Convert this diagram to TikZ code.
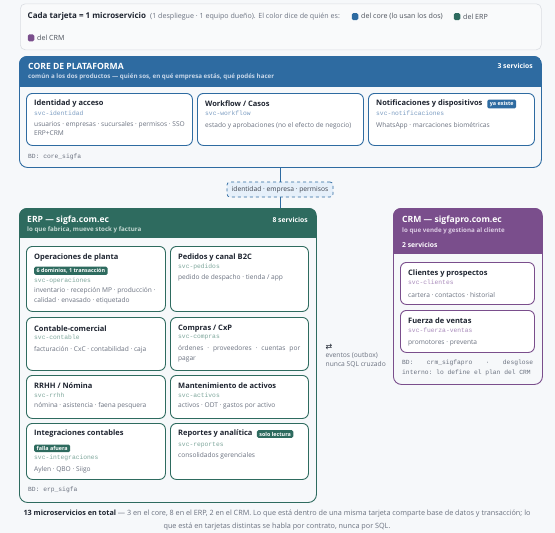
\documentclass[tikz,border=0pt]{standalone}
\usepackage{fontspec}
\setmainfont{Open Sans}
\setmonofont{Liberation Mono}
\newfontfamily\symfnt{DejaVu Sans}
\definecolor{bg}{HTML}{F6F8FA}
\definecolor{lgfill}{HTML}{F9FAFB}
\definecolor{lgline}{HTML}{DADDE2}
\definecolor{coreC}{HTML}{2E6BA1}
\definecolor{erpC}{HTML}{2E6B5F}
\definecolor{crmC}{HTML}{7A4E8C}
\definecolor{coreM}{HTML}{7C9DC2}
\definecolor{erpM}{HTML}{7FA79C}
\definecolor{crmM}{HTML}{A98BBB}
\definecolor{coreS}{HTML}{C9D8EA}
\definecolor{erpS}{HTML}{C5D9D3}
\definecolor{crmS}{HTML}{DDCCE5}
\definecolor{ink}{HTML}{1E2430}
\definecolor{mut}{HTML}{6B7280}
\definecolor{lblfill}{HTML}{E6F0FA}
\begin{document}
\begin{tikzpicture}[x=1pt,y=-1pt,
  panel/.style={draw=#1, line width=0.9pt, rounded corners=8pt, anchor=north west, inner sep=0pt, fill=bg},
  card/.style={draw=#1, line width=0.9pt, rounded corners=6pt, fill=white, anchor=north west, inner sep=0pt},
  tx/.style={anchor=west, inner sep=0pt, text=mut, font=\fontsize{6.6}{9.6}\selectfont},
  ttl/.style={anchor=west, inner sep=0pt, text=ink, font=\bfseries\fontsize{7.5}{9}\selectfont},
  mono/.style={anchor=west, inner sep=0pt, text=#1, font=\ttfamily\fontsize{6.3}{10.3}\selectfont},
  badge/.style={anchor=west, fill=#1, text=white, rounded corners=1.5pt, inner xsep=2.5pt, inner ysep=1.7pt, font=\bfseries\fontsize{5.4}{6}\selectfont},
  htitle/.style={anchor=west, inner sep=0pt, text=white, font=\bfseries\fontsize{8.6}{10}\selectfont},
  hsub/.style={anchor=west, inner sep=0pt, text=#1, font=\bfseries\fontsize{6.2}{7}\selectfont},
  hcount/.style={inner sep=0pt, text=white, font=\bfseries\fontsize{6.8}{7}\selectfont},
  lgt/.style={anchor=west, inner sep=0pt, text=#1, font=\fontsize{7.1}{8}\selectfont},
  sq/.style={fill=#1, rounded corners=1.5pt, minimum width=6.5pt, minimum height=7pt, inner sep=0pt},
  link/.style={draw=coreC, line width=0.9pt}
]
\useasboundingbox (0,0) rectangle (555,533);
\fill[bg] (0,0) rectangle (555,533);

% ---------- legend ----------
\node[draw=lgline, fill=lgfill, line width=0.6pt, rounded corners=5pt, anchor=north west, minimum width=521pt, minimum height=46pt, inner sep=0pt] (legend) at (20,3.5) {};
\node[anchor=west, inner sep=0pt, text=ink, font=\bfseries\fontsize{8}{9}\selectfont] (lg1) at (27.5,16.6) {Cada tarjeta = 1 microservicio};
\node[lgt=mut] (lg2) at (150,16.6) {(1 despliegue · 1 equipo dueño). El color dice de quién es:};
\node[sq=coreC] (lgsqa) at (355,16.6) {};
\node[lgt=ink!80] (lg3) at (361,16.6) {del core (lo usan los dos)};
\node[sq=erpC] (lgsqb) at (457,16.6) {};
\node[lgt=ink!80] (lg4) at (463,16.6) {del ERP};
\node[sq=crmC] (lgsqc) at (31,37.9) {};
\node[lgt=ink!80] (lg5) at (37,37.9) {del CRM};

% ---------- core ----------
\node[panel=coreC, minimum width=522pt, minimum height=111pt] (core) at (19,56) {};
\begin{scope}
\clip[rounded corners=8pt] (core.north west) rectangle (core.south east);
\fill[coreC] (19,56) rectangle (541,87);
\end{scope}
\node[htitle] (coret) at (28,66) {CORE DE PLATAFORMA};
\node[hsub=coreS] (cores) at (28,76.7) {común a los dos productos — quién sos, en qué empresa estás, qué podés hacer};
\node[hcount, anchor=east] (corec) at (533,66) {3 servicios};

\node[card=coreC, minimum width=166pt, minimum height=52pt] (c1) at (26,93) {};
\node[ttl] at (34,104) {Identidad y acceso};
\node[mono=coreM] at (34,113.5) {svc-identidad};
\node[tx, anchor=north west, align=left] at (34,121) {usuarios · empresas · sucursales · permisos · SSO\\ERP+CRM};

\node[card=coreC, minimum width=166pt, minimum height=52pt] (c2) at (197,93) {};
\node[ttl] at (205,104) {Workflow / Casos};
\node[mono=coreM] at (205,113.5) {svc-workflow};
\node[tx] at (205,125.3) {estado y aprobaciones (no el efecto de negocio)};

\node[card=coreC, minimum width=166pt, minimum height=52pt] (c3) at (368,93) {};
\node[ttl] (c3t) at (376,104) {Notificaciones y dispositivos};
\node[badge=coreC] (c3b) at ([xshift=4.5pt]c3t.east) {ya existe};
\node[mono=coreM] at (376,113.5) {svc-notificaciones};
\node[tx] at (376,125.3) {WhatsApp · marcaciones biométricas};

\node[mono=mut] (corebd) at (28,157.3) {BD: core\_sigfa};

% ---------- link label ----------
\node[draw=coreC, dashed, line width=0.7pt, fill=lblfill, rounded corners=3pt, minimum width=106pt, minimum height=15pt, inner sep=0pt, text=ink!85, font=\fontsize{6.7}{7}\selectfont] (lk) at (280,189.5) {identidad · empresa · permisos};

% ---------- ERP ----------
\node[panel=erpC, minimum width=297pt, minimum height=294pt] (erp) at (19,208) {};
\begin{scope}
\clip[rounded corners=8pt] (erp.north west) rectangle (erp.south east);
\fill[erpC] (19,208) rectangle (316,238);
\end{scope}
\node[htitle] (erpt) at (27,220) {ERP — sigfa.com.ec};
\node[hsub=erpS] (erps) at (27,230) {lo que fabrica, mueve stock y factura};
\node[hcount, anchor=east] (erpc) at (308,220) {8 servicios};

\node[card=erpC, minimum width=139pt, minimum height=65pt] (e1) at (26,246) {};
\node[ttl] at (34,258) {Operaciones de planta};
\node[badge=erpC] at (34,270.8) {6 dominios, 1 transacción};
\node[mono=erpM] at (34,280.7) {svc-operaciones};
\node[tx, anchor=north west, align=left] at (34,287.5) {inventario · recepción MP · producción ·\\calidad · envasado · etiquetado};

\node[card=erpC, minimum width=138pt, minimum height=65pt] (e2) at (170,246) {};
\node[ttl] at (178,257.7) {Pedidos y canal B2C};
\node[mono=erpM] at (178,266.7) {svc-pedidos};
\node[tx] at (178,277.7) {pedido de despacho · tienda / app};

\node[card=erpC, minimum width=139pt, minimum height=53pt] (e3) at (26,317) {};
\node[ttl] at (34,328.3) {Contable-comercial};
\node[mono=erpM] at (34,337.7) {svc-contable};
\node[tx] at (34,350) {facturación · CxC · contabilidad · caja};

\node[card=erpC, minimum width=138pt, minimum height=53pt] (e4) at (170,317) {};
\node[ttl] at (178,328.3) {Compras / CxP};
\node[mono=erpM] at (178,337.7) {svc-compras};
\node[tx, anchor=north west, align=left] at (178,345.5) {\hbox to 122pt{órdenes\hfill·\hfill proveedores\hfill·\hfill cuentas\hfill por}\\pagar};

\node[card=erpC, minimum width=139pt, minimum height=43pt] (e5) at (26,375) {};
\node[ttl] at (34,386) {RRHH / Nómina};
\node[mono=erpM] at (34,395.7) {svc-rrhh};
\node[tx] at (34,406) {nómina · asistencia · faena pesquera};

\node[card=erpC, minimum width=138pt, minimum height=43pt] (e6) at (170,375) {};
\node[ttl] at (178,386) {Mantenimiento de activos};
\node[mono=erpM] at (178,395.7) {svc-activos};
\node[tx] at (178,406) {activos · ODT · gastos por activo};

\node[card=erpC, minimum width=139pt, minimum height=56pt] (e7) at (26,423) {};
\node[ttl] at (34,434) {Integraciones contables};
\node[badge=erpC] at (34,448.3) {falla afuera};
\node[mono=erpM] at (34,458) {svc-integraciones};
\node[tx] at (34,469.3) {Aylen · QBO · Siigo};

\node[card=erpC, minimum width=138pt, minimum height=56pt] (e8) at (170,423) {};
\node[ttl] (e8t) at (178,434) {Reportes y analítica};
\node[badge=erpC] (e8b) at ([xshift=4pt]e8t.east) {solo lectura};
\node[mono=erpM] at (178,444.7) {svc-reportes};
\node[tx] at (178,455.7) {consolidados gerenciales};

\node[mono=mut] (erpbd) at (28,490) {BD: erp\_sigfa};

% ---------- CRM ----------
\node[panel=crmC, minimum width=149pt, minimum height=176pt] (crm) at (393,208) {};
\begin{scope}
\clip[rounded corners=8pt] (crm.north west) rectangle (crm.south east);
\fill[crmC] (393,208) rectangle (542,254);
\end{scope}
\node[htitle] (crmt) at (402,220) {CRM — sigfapro.com.ec};
\node[hsub=crmS] (crms) at (402,230.7) {lo que vende y gestiona al cliente};
\node[hcount, anchor=west] (crmc) at (402,245) {2 servicios};

\node[card=crmC, minimum width=134pt, minimum height=42pt] (r1) at (400,262) {};
\node[ttl] at (408,273.3) {Clientes y prospectos};
\node[mono=crmM] at (408,282.7) {svc-clientes};
\node[tx] at (408,294.7) {cartera · contactos · historial};

\node[card=crmC, minimum width=134pt, minimum height=42pt] (r2) at (400,310) {};
\node[ttl] at (408,321) {Fuerza de ventas};
\node[mono=crmM] at (408,330.7) {svc-fuerza-ventas};
\node[tx] at (408,342.7) {promotores · preventa};

\node[mono=mut, anchor=north west, align=left] (crmbd) at (402,359.3) {\hbox to 131pt{BD:\hfill crm\_sigfapro\hfill ·\hfill desglose}\\interno: lo define el plan del CRM};

% ---------- events ----------
\node[inner sep=0pt, anchor=west, text=ink, font=\symfnt\fontsize{8}{8}\selectfont] (evs) at (325.5,346.7) {⇄};
\node[tx, anchor=north west, align=left, font=\fontsize{6.7}{8.6}\selectfont] (evt) at (325.5,352.3) {eventos (outbox)\\nunca SQL cruzado};

% ---------- connectors ----------
\draw[link] (core.south -| lk.north) -- (lk.north);
\draw[link] (lk.south) -- (lk.south |- erp.north);

% ---------- footer ----------
\node[align=center, inner sep=0pt, text=mut, font=\fontsize{7.25}{12.5}\selectfont] (foot) at (277,520) {{\bfseries\color{ink}13 microservicios en total} — 3 en el core, 8 en el ERP, 2 en el CRM. Lo que está dentro de una misma tarjeta comparte base de datos y transacción; lo\\que está en tarjetas distintas se habla por contrato, nunca por SQL.};
\end{tikzpicture}
\end{document}
